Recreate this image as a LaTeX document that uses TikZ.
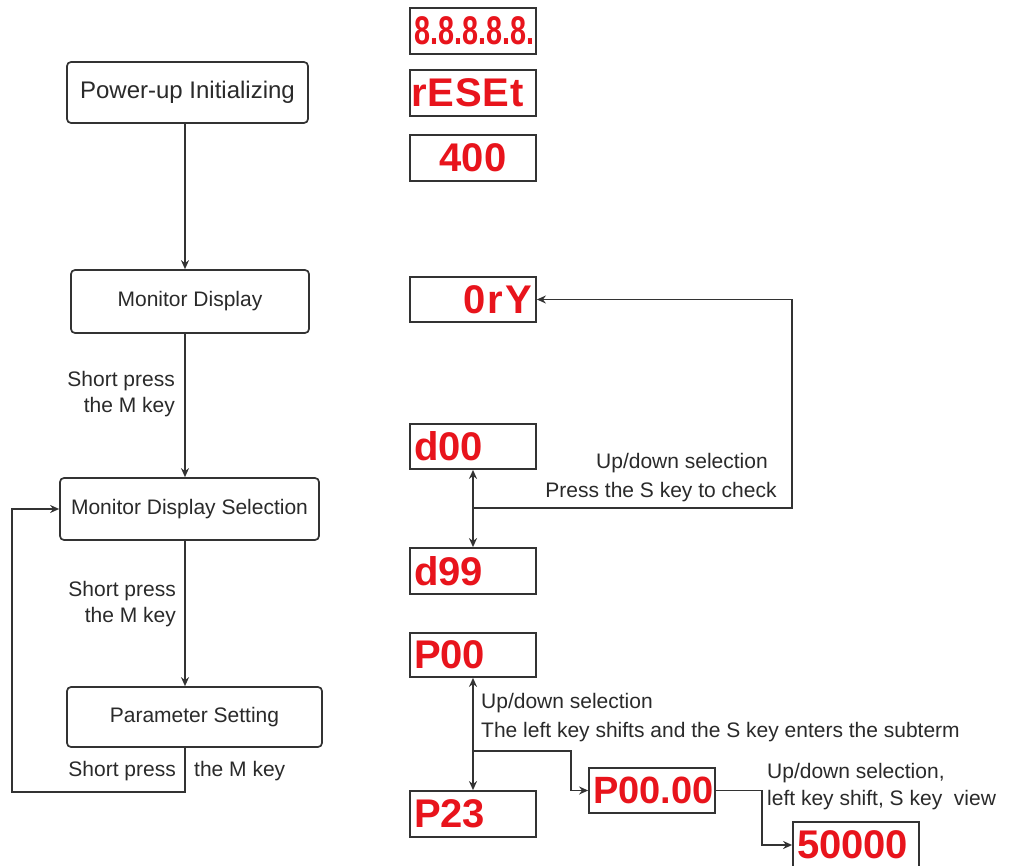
\documentclass[tikz,border=0pt]{standalone}
\usepackage{fontspec}
\usepackage{graphicx}
\setmainfont{Liberation Sans}
\newfontfamily\segfont{Liberation Sans}
\usetikzlibrary{arrows.meta}
\definecolor{linec}{HTML}{333333}
\definecolor{textc}{HTML}{2A2A2A}
\definecolor{segred}{HTML}{E8141C}
\tikzset{
  flowbox/.style={draw=linec, line width=1.7pt, rounded corners=4pt, fill=white, text=textc, inner sep=0pt,
    font=\fontsize{21}{25}\selectfont},
  segbox/.style={draw=linec, line width=1.8pt, text=segred, inner xsep=4pt, inner ysep=0pt,
    text width=118pt, minimum height=45pt, font=\segfont\bfseries\fontsize{40}{42}\selectfont},
  conn/.style={draw=linec, line width=1.7pt},
  arr/.style={conn, -{Stealth[length=9pt,width=8pt]}},
  darr/.style={conn, {Stealth[length=9pt,width=8pt]}-{Stealth[length=9pt,width=8pt]}},
  lbl/.style={text=textc, inner sep=0pt, font=\fontsize{21}{26}\selectfont}
}
\begin{document}
\begin{tikzpicture}[x=1pt,y=-1pt]
\clip (0,0) rectangle (1012,866);
\fill[white] (0,0) rectangle (1012,866);

% left flow
\node[flowbox, minimum width=241pt, minimum height=61pt, font=\fontsize{24}{28}\selectfont] (PU) at (187.5,92.5) {Power-up Initializing};
\node[flowbox, minimum width=238pt, minimum height=63pt] (MD) at (190,301.5) {Monitor Display};
\node[flowbox, minimum width=259pt, minimum height=62pt] (MDS) at (189.5,509) {Monitor Display Selection};
\node[flowbox, minimum width=255pt, minimum height=60pt] (PS) at (194.5,717) {Parameter Setting};

\coordinate (vx) at (185,0);
\coordinate (lpB) at (12,792);
\draw[arr] (PU.south -| vx) -- (MD.north -| vx);
\draw[arr] (MD.south -| vx) -- (MDS.north -| vx);
\draw[arr] (MDS.south -| vx) -- (PS.north -| vx);
\draw[arr] (PS.south -| vx) |- (lpB) |- (MDS.west);

\node[lbl, align=right, anchor=east] (L1) at (175,394) {Short press\\the M key};
\node[lbl, align=right, anchor=east] (L2) at (176,604) {Short press\\the M key};
\node[lbl, anchor=east] (L3a) at (176,771) {Short press};
\node[lbl, anchor=west] (L3b) at (194,771) {the M key};

% right displays
\node[segbox, minimum height=46pt, align=left] (D1) at (473,31) {\scalebox{0.72}[1]{8.8.8.8.8.}};
\node[segbox, minimum height=46pt, align=left] (D2) at (473,93) {\kern-3pt r\kern1pt E\kern1pt S\kern1pt E\kern1pt t};
\node[segbox, minimum height=46pt, align=center] (D3) at (473,158) {400};
\node[segbox, align=right] (DRY) at (473,299.5) {0\kern2pt r\kern2pt Y};
\node[segbox, align=left] (d00) at (473,446.5) {d00};
\node[segbox, minimum height=46pt, align=left] (d99) at (473,571) {d99};
\node[segbox, minimum height=44pt, align=left] (P00) at (473,655) {P00};
\node[segbox, minimum height=46pt, align=left] (P23) at (473,814) {P23};
\node[segbox, align=left, font=\segfont\bfseries\fontsize{38}{40}\selectfont] (P0000) at (652,790.5) {P00.00};
\node[segbox, minimum height=46pt, align=left] (S0) at (856,845) {50000};

% right connectors
\draw[darr] (d00.south) -- (d99.north);
\coordinate (dj) at (473,508);
\coordinate (dr) at (792,508);
\draw[arr] (dj) -- (dr) |- (DRY.east);

\draw[darr] (P00.south) -- (P23.north);
\coordinate (pj) at (473,751);
\coordinate (pk) at (571,751);
\draw[arr] (pj) -- (pk) |- (P0000.west);
\coordinate (qk) at (762,790.5);
\draw[arr] (P0000.east) -- (qk) |- (S0.west);

% right labels
\node[lbl] (R1a) at (682,463) {Up/down selection};
\node[lbl] (R1b) at (661,492) {Press the S key to check};
\node[lbl, anchor=west, align=left] (R2) at (481,717.5) {Up/down selection\\[3pt]The left key shifts and the S key enters the subterm};
\node[lbl, anchor=west, align=left] (R3) at (767,786.5) {Up/down selection,\\[1pt]left key shift, S key\ \ view};
\end{tikzpicture}
\end{document}
